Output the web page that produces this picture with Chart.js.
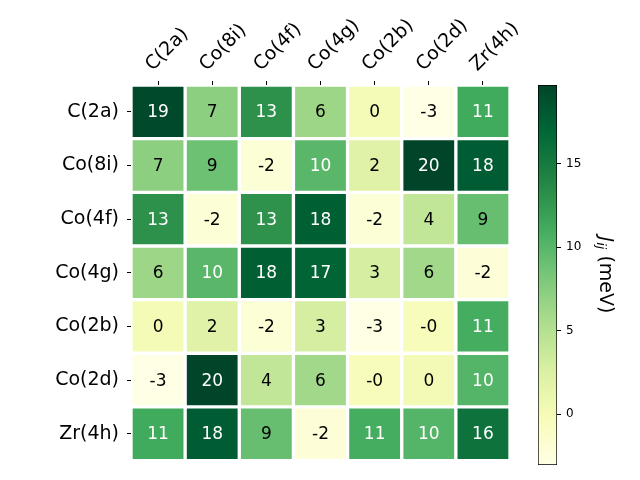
<!DOCTYPE html>
<html>
<head>
<meta charset="utf-8">
<style>
  body { margin: 0; background: #ffffff; }
  #wrap { position: relative; width: 640px; height: 480px; }
  #heat { position: absolute; left: 0; top: 0; }
  #cbar { position: absolute; left: 530px; top: 0; }
</style>
</head>
<body>
<div id="wrap">
  <canvas id="heat" width="640" height="480"></canvas>
  <canvas id="cbar" width="110" height="480"></canvas>
</div>
<script src="https://cdn.jsdelivr.net/npm/chart.js"></script>
<script>
// site labels (columns and rows are the same)
const colLabels = ['C(2a)', 'Co(8i)', 'Co(4f)', 'Co(4g)', 'Co(2b)', 'Co(2d)', 'Zr(4h)'];
const rowLabels = ['C(2a)', 'Co(8i)', 'Co(4f)', 'Co(4g)', 'Co(2b)', 'Co(2d)', 'Zr(4h)'];

// exchange couplings J_ij in meV, one array per row
const rowC2a  = [19.4,  7.2, 13.1,  6.3,  0.1, -3.05, 11.2];
const rowCo8i = [ 7.2,  8.9, -2.1,  9.9,  2.1, 19.7, 17.8];
const rowCo4f = [13.1, -2.1, 13.0, 17.6, -2.0,  4.1,  9.2];
const rowCo4g = [ 6.3,  9.9, 17.6, 17.2,  2.9,  6.1, -2.2];
const rowCo2b = [ 0.1,  2.1, -2.0,  2.9, -2.9, -0.3, 11.0];
const rowCo2d = [-3.05, 19.7, 4.1,  6.1, -0.3,  0.2, 10.2];
const rowZr4h = [11.2, 17.8,  9.2, -2.2, 11.0, 10.2, 15.8];
const rows = [rowC2a, rowCo8i, rowCo4f, rowCo4g, rowCo2b, rowCo2d, rowZr4h];

// colorbar ticks
const cbarTicks = [0, 5, 10, 15];

// matplotlib YlGn
const ylgn = ['#ffffe5', '#f7fcb9', '#d9f0a3', '#addd8e', '#78c679', '#41ab5d', '#238443', '#006837', '#004529'];

const allVals = rows.flat();
const vmin = Math.min(...allVals);
const vmax = Math.max(...allVals);

function hexRgb(h) {
  return [parseInt(h.slice(1, 3), 16), parseInt(h.slice(3, 5), 16), parseInt(h.slice(5, 7), 16)];
}
function cmapRgb(t) {
  t = Math.max(0, Math.min(1, t));
  const p = t * (ylgn.length - 1);
  const i = Math.min(Math.floor(p), ylgn.length - 2);
  const f = p - i;
  const a = hexRgb(ylgn[i]), b = hexRgb(ylgn[i + 1]);
  return a.map((c, k) => Math.round(c + (b[k] - c) * f));
}
function colorFor(v) {
  const c = cmapRgb((v - vmin) / (vmax - vmin));
  return `rgb(${c[0]},${c[1]},${c[2]})`;
}
function textColorFor(v) {
  const c = cmapRgb((v - vmin) / (vmax - vmin)).map(x => {
    x /= 255;
    return x <= 0.03928 ? x / 12.92 : Math.pow((x + 0.055) / 1.055, 2.4);
  });
  const lum = 0.2126 * c[0] + 0.7152 * c[1] + 0.0722 * c[2];
  return lum > 0.408 ? '#000000' : '#ffffff';
}

const FONT = "'DejaVu Sans', sans-serif";

// one floating-bar dataset per row, bars overlap (grouped: false)
const datasets = rows.map((vals, i) => ({
  label: rowLabels[i],
  data: vals.map((v, j) => ({ x: colLabels[j], y: [i - 0.5, i + 0.5], v: v })),
  backgroundColor: vals.map(colorFor),
  borderColor: '#ffffff',
  borderWidth: 2,
  borderSkipped: false,
  barPercentage: 1,
  categoryPercentage: 1,
  grouped: false
}));

// write the value in each cell
const cellLabels = {
  id: 'cellLabels',
  afterDatasetsDraw(chart) {
    const ctx = chart.ctx;
    ctx.save();
    ctx.font = `17px ${FONT}`;
    ctx.textAlign = 'center';
    ctx.textBaseline = 'middle';
    chart.data.datasets.forEach((ds, di) => {
      chart.getDatasetMeta(di).data.forEach((bar, j) => {
        const v = ds.data[j].v;
        const p = bar.getProps(['x', 'y', 'base'], true);
        ctx.fillStyle = textColorFor(v);
        ctx.fillText(v.toFixed(0), p.x, (p.y + p.base) / 2 + 1);
      });
    });
    ctx.restore();
  }
};

new Chart(document.getElementById('heat'), {
  type: 'bar',
  data: { labels: colLabels, datasets: datasets },
  options: {
    responsive: false,
    animation: false,
    layout: { padding: { left: 0, top: 0, right: 130, bottom: 15 } },
    plugins: { legend: { display: false }, tooltip: { enabled: false } },
    scales: {
      x: {
        position: 'top',
        grid: { offset: false, drawOnChartArea: false, drawTicks: true, tickLength: 4, color: '#000000' },
        border: { display: false },
        ticks: { color: '#000000', font: { family: FONT, size: 19 }, minRotation: 45, maxRotation: 45, autoSkip: false, padding: 5, labelOffset: 7 },
        afterFit(scale) { scale.height = 85; }
      },
      y: {
        type: 'linear',
        min: -0.5,
        max: 6.5,
        reverse: true,
        grid: { drawOnChartArea: false, drawTicks: true, tickLength: 4, color: '#000000' },
        border: { display: false },
        afterBuildTicks(scale) { scale.ticks = rowLabels.map((_, i) => ({ value: i })); },
        ticks: {
          color: '#000000',
          font: { family: FONT, size: 19 },
          padding: 8,
          callback: v => rowLabels[v]
        },
        afterFit(scale) { scale.width = 131; }
      }
    }
  },
  plugins: [cellLabels]
});

// colorbar title: italic J with subscript ij, then (meV)
const cbarTitle = {
  id: 'cbarTitle',
  afterDraw(chart) {
    const ctx = chart.ctx;
    const cy = (chart.chartArea.top + chart.chartArea.bottom) / 2;
    ctx.save();
    ctx.translate(75, cy);
    ctx.rotate(Math.PI / 2);
    ctx.fillStyle = '#000000';
    ctx.textBaseline = 'middle';
    const fJ = `italic 19px ${FONT}`, fSub = `italic 13px ${FONT}`, fRest = `19px ${FONT}`;
    ctx.font = fJ; const wJ = ctx.measureText('J').width;
    ctx.font = fSub; const wS = ctx.measureText('ij').width;
    ctx.font = fRest; const wR = ctx.measureText(' (meV)').width;
    let x = -(wJ + wS + wR) / 2;
    ctx.textAlign = 'left';
    ctx.font = fJ; ctx.fillText('J', x, 0); x += wJ;
    ctx.font = fSub; ctx.fillText('ij', x, 5); x += wS;
    ctx.font = fRest; ctx.fillText(' (meV)', x, 0);
    ctx.restore();
  }
};

new Chart(document.getElementById('cbar'), {
  type: 'bar',
  data: {
    labels: ['J'],
    datasets: [{
      data: [[vmin, vmax]],
      backgroundColor(context) {
        const { ctx, chartArea, scales } = context.chart;
        if (!chartArea) return ylgn[4];
        const y0 = scales.y.getPixelForValue(vmin), y1 = scales.y.getPixelForValue(vmax);
        const g = ctx.createLinearGradient(0, y0, 0, y1);
        ylgn.forEach((c, i) => g.addColorStop(i / (ylgn.length - 1), c));
        return g;
      },
      borderColor: '#000000',
      borderWidth: 1,
      borderSkipped: false,
      barPercentage: 1,
      categoryPercentage: 1
    }]
  },
  options: {
    responsive: false,
    animation: false,
    layout: { padding: { left: 8, top: 85, right: 0, bottom: 15 } },
    plugins: { legend: { display: false }, tooltip: { enabled: false } },
    scales: {
      x: { display: false },
      y: {
        position: 'right',
        min: vmin,
        max: vmax,
        grid: { drawOnChartArea: false, drawTicks: true, tickLength: 4, color: '#000000' },
        border: { display: false },
        afterBuildTicks(scale) { scale.ticks = cbarTicks.map(v => ({ value: v })); },
        ticks: { color: '#000000', font: { family: FONT, size: 12 }, padding: 5 },
        afterFit(scale) { scale.width = 83; }
      }
    }
  },
  plugins: [cbarTitle]
});
</script>
</body>
</html>
